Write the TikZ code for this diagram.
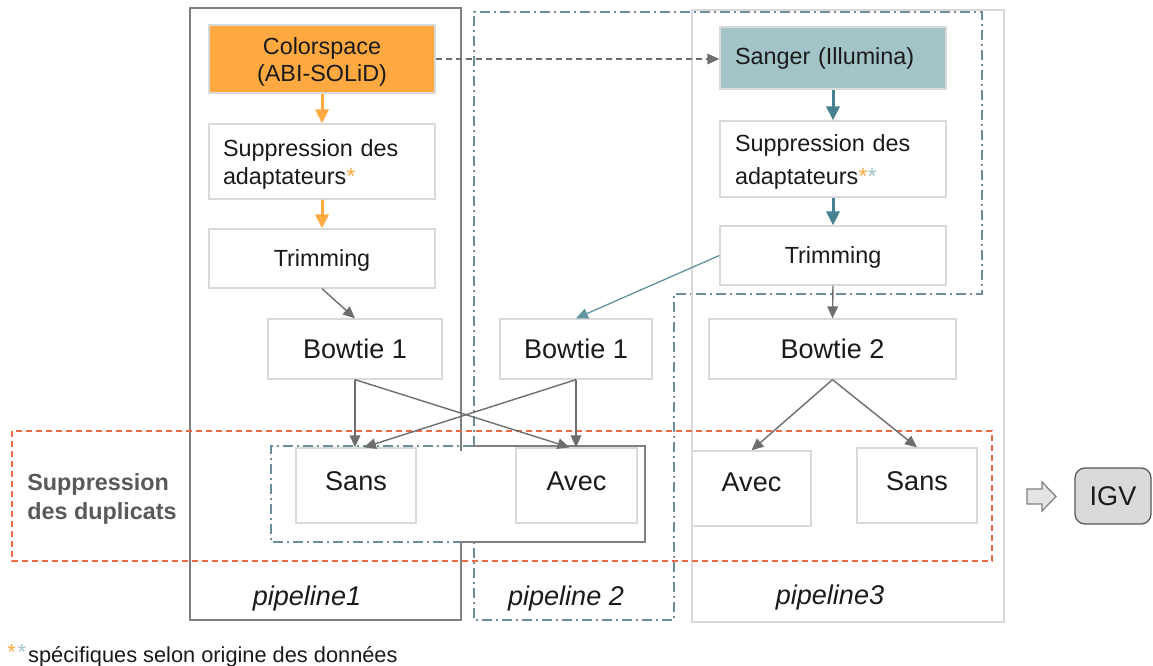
\documentclass[tikz,border=0pt]{standalone}
\usepackage{fontspec}
\setmainfont{Liberation Sans}
\usetikzlibrary{arrows.meta}
\newdimen\px \px=0.02cm
\definecolor{orangeF}{HTML}{FFA940}
\definecolor{tealF}{HTML}{A2C4C9}
\definecolor{tealA}{HTML}{45818E}
\definecolor{boxG}{HTML}{D9D9D9}
\definecolor{frameG}{HTML}{7F7F7F}
\definecolor{arrG}{HTML}{6E6E6E}
\definecolor{dashB}{HTML}{6C8E9B}
\definecolor{dashR}{HTML}{EE6A45}
\definecolor{labG}{HTML}{595959}
\definecolor{igvF}{HTML}{D9D9D9}
\definecolor{txt}{HTML}{1A1A1A}
\newcommand\szM{\fontsize{13.3pt}{15.6pt}\selectfont}
\newcommand\szL{\fontsize{15.4pt}{18pt}\selectfont}
\newcommand\szS{\fontsize{12.4pt}{14pt}\selectfont}
\newcommand\lowr{\rule{0pt}{13.2pt}}
\tikzset{
  nbox/.style={draw=boxG, line width=1.3\px, fill=white, inner sep=0pt, text=txt, font=\szM, align=center},
  nleft/.style={nbox, inner xsep=14\px, text width=198\px, align=left},
  none/.style={nbox, text height=9.6pt, text depth=0pt},
  nbig/.style={nbox, font=\szL, text height=11.1pt, text depth=0pt},
  nlow/.style={nbig, text height=20\px, text depth=11\px},
  oarr/.style={draw=orangeF, line width=3\px, -{Triangle[length=8pt,width=7.5pt]}},
  tarr/.style={draw=tealA, line width=3\px, -{Triangle[length=8pt,width=7.5pt]}},
  tthin/.style={draw=tealA!85, line width=1.3\px, -{Triangle[length=6.8pt,width=6pt]}},
  garr/.style={draw=arrG, line width=1.4\px, -{Triangle[length=6.8pt,width=6pt]}},
  dgarr/.style={garr, dash pattern=on 6\px off 4\px},
  pframe/.style={draw=frameG, line width=1.5\px},
  dashdot/.style={draw=dashB, line width=1.5\px, dash pattern=on 10\px off 4\px on 2\px off 4\px},
  plab/.style={font=\szL\itshape, text=txt},
}
\begin{document}
\begin{tikzpicture}[x=0.02cm, y=-0.02cm]
\useasboundingbox (0,0) rectangle (1153,666);
\fill[white] (0,0) rectangle (1153,666);

% frames
\draw[pframe] (461,451) -- (461,8) -- (190,8) -- (190,620) -- (461,620) -- (461,541);
\draw[dashdot] (474,446) -- (474,12) -- (982,12) -- (982,294) -- (674,294) -- (674,620) -- (474,620) -- (474,541);
\draw[draw=boxG, line width=1.5\px] (692,10) rectangle (1004,622);
\draw[draw=dashR, line width=1.5\px, dash pattern=on 6\px off 4\px] (12,431) rectangle (992,561);
\draw[dashdot] (473,446) -- (271,446) -- (271,542) -- (461,542);
\draw[pframe] (473,446) -- (645,446) -- (645,542) -- (461,542);

% pipeline 1
\node[nbox, fill=orangeF, minimum width=226\px, minimum height=68\px] (color) at (322,59) {\lowr Colorspace\\(ABI-SOLiD)};
\node[nleft, minimum height=75\px] (supL) at (322,161.5) {\lowr Suppression des\\[0.6pt]adaptateurs{\color{orangeF}*}};
\node[none, minimum width=226\px, minimum height=59\px] (trimL) at (322,258.5) {Trimming};
\node[nbig, minimum width=174\px, minimum height=60\px] (bt1L) at (355,349) {Bowtie 1};
\node[nlow, minimum width=120\px, minimum height=75\px] (sansL) at (356,485.5) {Sans};

% pipeline 2
\node[nbig, minimum width=152\px, minimum height=60\px] (bt1R) at (576,349) {Bowtie 1};
\node[nlow, minimum width=121\px, minimum height=75\px] (avecM) at (576.5,485.5) {Avec};

% pipeline 3
\node[nbox, fill=tealF, inner xsep=15\px, text width=196\px, align=left, minimum height=62\px] (sanger) at (833,58) {Sanger (Illumina)};
\node[nleft, inner xsep=15\px, text width=196\px, minimum height=76\px] (supR) at (833,159) {\lowr Suppression des\\[3.4pt]adaptateurs{\color{orangeF}*}{\color{tealF}*}};
\node[none, minimum width=226\px, minimum height=59\px] (trimR) at (833,255.5) {Trimming};
\node[nbig, minimum width=247\px, minimum height=60\px] (bt2) at (832.5,349) {Bowtie 2};
\node[nlow, text height=18\px, text depth=13\px, minimum width=119\px, minimum height=75\px] (avecR) at (751.5,488.5) {Avec};
\node[nlow, minimum width=120\px, minimum height=75\px] (sansR) at (917,485.5) {Sans};

% IGV
\draw[draw=frameG, fill=igvF!70, line width=1.2\px] (1027,489) -- (1042,489) -- (1042,482) -- (1056,496.5) -- (1042,511) -- (1042,504) -- (1027,504) -- cycle;
\node[draw=labG, fill=igvF, line width=1.3\px, rounded corners=10\px, minimum width=76\px, minimum height=56\px, inner sep=0pt, font=\szL, text=txt] (igv) at (1113,496) {IGV};

% labels
\node[plab] (p1lab) at (307,598) {pipeline1};
\node[plab] (p2lab) at (566,598) {pipeline 2};
\node[plab] (p3lab) at (830,597) {pipeline3};
\node[anchor=west, align=left, font=\szM\bfseries, text=labG, inner sep=0pt] (dup) at (27,499) {Suppression\\[1pt]des duplicats};
\node[anchor=west, font=\szS, text=txt, inner sep=0pt] (foot) at (7,656) {\raisebox{1.5pt}{\color{orangeF}*}\kern1pt\raisebox{1.5pt}{\color{tealF}*}\kern1.2pt spécifiques selon origine des données};

% connectors
\draw[oarr] (color.south) -- (supL.north);
\draw[oarr] (supL.south) -- (trimL.north);
\draw[garr] (trimL.south) -- (bt1L.north);
\draw[dgarr] (color.east) -- (sanger.west |- color.east);
\draw[tarr] (sanger.south) -- (supR.north);
\draw[tarr] (supR.south) -- (trimR.north);
\draw[tthin] (trimR.west) -- (bt1R.north);
\draw[garr] (trimR.south) -- (bt2.north);
\draw[garr] (bt1L.south) -- (bt1L.south |- sansL.north);
\draw[garr] (bt1L.south) -- ([xshift=-7\px]avecM.north);
\draw[garr] (bt1R.south) -- (bt1R.south |- avecM.north);
\draw[garr] (bt1R.south) -- ([xshift=8\px]sansL.north);
\draw[garr] (bt2.south) -- (avecR.north);
\draw[garr] (bt2.south) -- (sansR.north);
\end{tikzpicture}
\end{document}
